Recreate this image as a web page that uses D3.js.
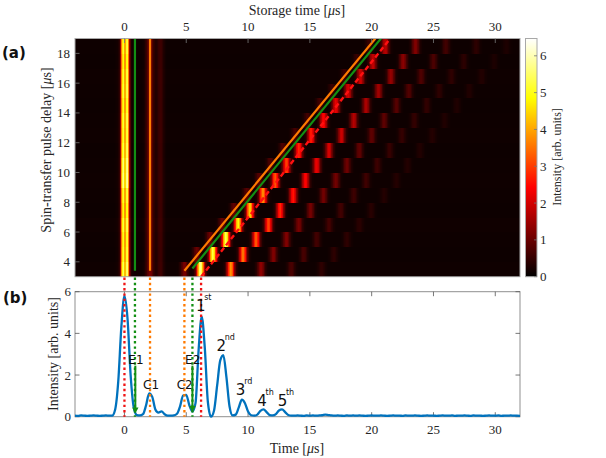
<!DOCTYPE html>
<html>
<head>
<meta charset="utf-8">
<script src="https://cdn.jsdelivr.net/npm/d3@7"></script>
<style>
  body { margin: 0; background: #fff; }
  svg text { fill: #262626; }
</style>
</head>
<body>
<svg id="fig" width="606" height="458"></svg>
<script>
// ---------- panel (b): measured trace, one value every 0.25 us starting at -4 us ----------
var traceStart = -4, traceStep = 0.25;
var traceValues = [
  0.05, 0.04, 0.06, 0.05, 0.04, 0.05, 0.06, 0.05, 0.04, 0.05, 0.06, 0.05, 0.05,
  0.35, 1.7, 4.3, 5.8, 4.7, 2.0, 0.45, 0.08, 0.06, 0.12, 0.55, 1.12, 0.95, 0.35,
  0.2, 0.26, 0.12, 0.05, 0.05, 0.06, 0.14, 0.5, 1.02, 1.05, 0.55, 0.25, 0.65,
  3.2, 4.8, 3.3, 0.7, 0.0, 0.3, 1.5, 2.7, 2.95, 1.9, 0.5, 0.06, 0.1, 0.45, 0.82,
  0.65, 0.25, 0.07, 0.05, 0.1, 0.28, 0.35, 0.22, 0.08, 0.06, 0.12, 0.3, 0.35,
  0.22, 0.08, 0.05,
  0.05, 0.06, 0.05, 0.04, 0.06, 0.05, 0.06, 0.05, 0.06, 0.07,
  0.1, 0.08, 0.06, 0.05, 0.06, 0.05, 0.04, 0.06, 0.05, 0.06,
  0.05, 0.06, 0.05, 0.04, 0.05, 0.06, 0.05, 0.05, 0.06, 0.05,
  0.04, 0.05, 0.06, 0.05, 0.05, 0.04, 0.06, 0.05, 0.05, 0.06,
  0.05, 0.04, 0.05, 0.06, 0.05, 0.05, 0.04, 0.05, 0.06, 0.05,
  0.05, 0.06, 0.04, 0.05, 0.05, 0.06, 0.05, 0.04, 0.06, 0.05,
  0.05, 0.04, 0.05, 0.06, 0.05, 0.05, 0.06, 0.04, 0.05, 0.05,
  0.06, 0.05, 0.05, 0.04
];

// ---------- panel (a): heat map, one row per spin-transfer delay ----------
var delayRows = [3, 4, 5, 6, 7, 8, 9, 10, 11, 12, 13, 14, 15, 16, 17, 18]; // lower edge of row (us)
var baseLevel = [0.14, 0.12, 0.13, 0.15, 0.12, 0.13, 0.14, 0.13, 0.12, 0.14, 0.13, 0.12, 0.13, 0.14, 0.12, 0.13];
var inputTimes = [-0.12, 0.22];          // the input pulse shows as two stripes
var inputAmp = [5.0, 4.7, 4.6, 4.8, 4.5, 4.7, 5.3, 5.2, 4.9, 4.7, 4.8, 4.6, 4.8, 4.7, 4.5, 4.7];
var fixedPeaks = [[0.05, 0.35, 0.32], [2.07, 1.0, 0.22], [2.9, 0.45, 0.2]]; // [time, amplitude, width]
var c2Amp = [1.0, 0.9, 0.9, 0.8, 0.8, 0.7, 0.7, 0.6, 0.6, 0.5, 0.5, 0.5, 0.4, 0.4, 0.4, 0.4];
var echo1Time = [6.15, 7.15, 8.2, 9.2, 10.15, 11.2, 12.2, 13.1, 14.1, 15.1, 16.1, 17.1, 18.1, 19.1, 20.1, 21.1];
var echoOffsets = [0, 2.45, 4.9, 7.35, 9.8];
var echoAmps = [
  [5.6, 3.7, 1.2, 0.55, 0.3],
  [5.2, 3.4, 1.1, 0.55, 0.3],
  [5.3, 3.1, 1.1, 0.5, 0.3],
  [4.7, 2.9, 1.0, 0.5, 0.25],
  [4.2, 2.7, 1.0, 0.5, 0.25],
  [3.6, 2.5, 0.95, 0.45, 0.2],
  [3.1, 2.3, 0.95, 0.45, 0.2],
  [2.9, 2.1, 0.9, 0.45, 0.2],
  [2.7, 1.9, 0.8, 0.4, 0.2],
  [2.5, 1.8, 0.75, 0.35, 0.2],
  [2.3, 1.6, 0.75, 0.35, 0.18],
  [2.1, 1.5, 0.7, 0.35, 0.18],
  [1.9, 1.4, 0.65, 0.3, 0.18],
  [1.8, 1.3, 0.6, 0.3, 0.18],
  [1.7, 1.2, 0.6, 0.3, 0.15],
  [1.6, 1.1, 0.5, 0.3, 0.15]
];

// overlay lines on (a): [t0, d0, t1, d1]
var guideLines = [
  { pts: [0.85, 3.4, 0.85, 19], col: 'green' },
  { pts: [2.07, 3.4, 2.07, 19], col: 'orange' },
  { pts: [4.85, 3.4, 20.3, 19], col: 'orange' },
  { pts: [5.5, 3.55, 20.75, 19], col: 'green' },
  { pts: [6.2, 3.0, 21.5, 19], col: 'red', dashed: true }
];
// dotted connectors from (a) down through (b)
var connTimes = [0, 0.85, 2.07, 4.85, 5.5, 6.2];
var connCols = ['red', 'green', 'orange', 'orange', 'green', 'red'];

var peakLabels = [
  { txt: 'E1', t: 0.93, v: 2.55 }, { txt: 'C1', t: 2.15, v: 1.33 },
  { txt: 'C2', t: 4.87, v: 1.33 }, { txt: 'E2', t: 5.52, v: 2.55 }
];
var orderLabels = [
  { n: '1', sup: 'st', t: 6.17, v: 5.07 }, { n: '2', sup: 'nd', t: 7.83, v: 3.17 },
  { n: '3', sup: 'rd', t: 9.4, v: 1.04 }, { n: '4', sup: 'th', t: 11.13, v: 0.51 },
  { n: '5', sup: 'th', t: 12.78, v: 0.51 }
];
var arrows = [{ t: 0.88, v0: 2.45, v1: 0.15 }, { t: 5.5, v0: 2.45, v1: 0.22 }];

var colours = { red: '#f01414', green: '#138f13', orange: '#ff7a00' };
var serif = '"Liberation Serif", "Times New Roman", serif';
var sans = '"DejaVu Sans", sans-serif';

// ---------- scales ----------
var svg = d3.select('#fig');
var x = d3.scaleLinear().domain([-4, 32]).range([75, 520]);
var ya = d3.scaleLinear().domain([3, 19]).range([276.7, 38.5]);
var yb = d3.scaleLinear().domain([0, 6]).range([416.7, 291.7]);
var yc = d3.scaleLinear().domain([0, 6.47]).range([276.7, 38.5]);

function hot(u) {
  u = Math.max(0, Math.min(1, u));
  var r = Math.min(1, u / 0.375);
  var g = Math.max(0, Math.min(1, (u - 0.375) / 0.375));
  var b = Math.max(0, (u - 0.75) / 0.25);
  return d3.rgb(r * 255, g * 255, b * 255).formatHex();
}
var colour = function(v) { return hot(v / yc.domain()[1]); };

function gauss(t, c, w) { var z = (t - c) / w; return Math.exp(-0.5 * z * z); }
function rowValue(i, t) {
  var v = baseLevel[i];
  fixedPeaks.forEach(function(p) { v += p[1] * gauss(t, p[0], p[2]); });
  inputTimes.forEach(function(c) { v += inputAmp[i] * gauss(t, c, 0.12); });
  v += c2Amp[i] * gauss(t, echo1Time[i] - 1.3, 0.2);
  echoOffsets.forEach(function(o, k) { v += echoAmps[i][k] * gauss(t, echo1Time[i] + o, 0.21); });
  return v;
}

// ---------- panel (a) heat map ----------
var step = 0.05;
var cols = d3.range(-4, 32, step);
var heat = svg.append('g').attr('shape-rendering', 'crispEdges');
delayRows.forEach(function(d, i) {
  heat.append('g').selectAll('rect')
    .data(cols)
    .enter().append('rect')
    .attr('x', function(t) { return x(t); })
    .attr('width', x(step) - x(0) + 0.4)
    .attr('y', ya(d + 1))
    .attr('height', ya(d) - ya(d + 1) + 0.4)
    .attr('fill', function(t) { return colour(rowValue(i, t + step / 2)); });
});

svg.append('clipPath').attr('id', 'clipA').append('rect')
  .attr('x', 75).attr('y', 38.5).attr('width', 445).attr('height', 238.2);
var guides = svg.append('g').attr('clip-path', 'url(#clipA)');
guideLines.forEach(function(g) {
  guides.append('line')
    .attr('x1', x(g.pts[0])).attr('y1', ya(g.pts[1]))
    .attr('x2', x(g.pts[2])).attr('y2', ya(g.pts[3]))
    .attr('stroke', g.col === 'red' ? '#ff1010' : colours[g.col])
    .attr('stroke-width', g.dashed ? 2.4 : 2.2)
    .attr('stroke-dasharray', g.dashed ? '5,3' : null);
});

// frame + ticks (a)
svg.append('rect').attr('x', 75).attr('y', 38.5).attr('width', 445).attr('height', 238.2)
  .attr('fill', 'none').attr('stroke', '#a8a8a8').attr('stroke-width', 1);
var xTicks = d3.range(0, 31, 5);
var gA = svg.append('g').attr('font-family', serif).attr('font-size', 13);
xTicks.forEach(function(t) {
  gA.append('line').attr('x1', x(t)).attr('x2', x(t)).attr('y1', 38.5).attr('y2', 43)
    .attr('stroke', '#777').attr('stroke-width', 0.8);
  gA.append('text').attr('x', x(t)).attr('y', 31).attr('text-anchor', 'middle').text(t);
});
d3.range(4, 19, 2).forEach(function(d) {
  gA.append('line').attr('x1', 75).attr('x2', 79.5).attr('y1', ya(d)).attr('y2', ya(d))
    .attr('stroke', '#777').attr('stroke-width', 0.8);
  gA.append('text').attr('x', 70).attr('y', ya(d) + 4.5).attr('text-anchor', 'end').text(d);
});
var t1 = svg.append('text').attr('x', 297).attr('y', 14.5).attr('text-anchor', 'middle')
  .attr('font-family', serif).attr('font-size', 14);
t1.append('tspan').text('Storage time [');
t1.append('tspan').attr('font-style', 'italic').text('\u03bc');
t1.append('tspan').text('s]');
var t2 = svg.append('text').attr('transform', 'translate(51,150) rotate(-90)')
  .attr('text-anchor', 'middle').attr('font-family', serif).attr('font-size', 14);
t2.append('tspan').text('Spin-transfer pulse delay [');
t2.append('tspan').attr('font-style', 'italic').text('\u03bc');
t2.append('tspan').text('s]');

// ---------- colour bar ----------
var grad = svg.append('defs').append('linearGradient').attr('id', 'hotGrad')
  .attr('x1', 0).attr('y1', 1).attr('x2', 0).attr('y2', 0);
d3.range(0, 1.0001, 0.025).forEach(function(u) {
  grad.append('stop').attr('offset', u).attr('stop-color', hot(u));
});
svg.append('rect').attr('x', 525.5).attr('y', 38.5).attr('width', 11.5).attr('height', 238.2)
  .attr('fill', 'url(#hotGrad)').attr('stroke', '#a8a8a8').attr('stroke-width', 1);
var gC = svg.append('g').attr('font-family', serif).attr('font-size', 13);
d3.range(0, 7).forEach(function(v) {
  gC.append('line').attr('x1', 534).attr('x2', 537).attr('y1', yc(v)).attr('y2', yc(v))
    .attr('stroke', '#777').attr('stroke-width', 0.8);
  gC.append('text').attr('x', 540).attr('y', yc(v) + 4.5).text(v);
});
svg.append('text').attr('transform', 'translate(561,157) rotate(-90)')
  .attr('text-anchor', 'middle').attr('font-family', serif).attr('font-size', 12)
  .text('Intensity [arb. units]');

// ---------- panel (b) ----------
var trace = traceValues.map(function(v, i) { return [traceStart + i * traceStep, v]; });
svg.append('clipPath').attr('id', 'clipB').append('rect')
  .attr('x', 75).attr('y', 289).attr('width', 445).attr('height', 130);
svg.append('rect').attr('x', 75).attr('y', 291.7).attr('width', 445).attr('height', 125)
  .attr('fill', '#fff').attr('stroke', '#8f8f8f').attr('stroke-width', 1);

var gB = svg.append('g').attr('font-family', serif).attr('font-size', 13);
xTicks.forEach(function(t) {
  gB.append('line').attr('x1', x(t)).attr('x2', x(t)).attr('y1', 416.7).attr('y2', 412.2)
    .attr('stroke', '#555').attr('stroke-width', 0.8);
  gB.append('line').attr('x1', x(t)).attr('x2', x(t)).attr('y1', 291.7).attr('y2', 296.2)
    .attr('stroke', '#555').attr('stroke-width', 0.8);
  gB.append('text').attr('x', x(t)).attr('y', 434).attr('text-anchor', 'middle').text(t);
});
d3.range(0, 7, 2).forEach(function(v) {
  gB.append('line').attr('x1', 75).attr('x2', 79.5).attr('y1', yb(v)).attr('y2', yb(v))
    .attr('stroke', '#555').attr('stroke-width', 0.8);
  gB.append('line').attr('x1', 520).attr('x2', 515.5).attr('y1', yb(v)).attr('y2', yb(v))
    .attr('stroke', '#555').attr('stroke-width', 0.8);
  gB.append('text').attr('x', 71).attr('y', yb(v) + 4.5).attr('text-anchor', 'end').text(v);
});

svg.append('path').datum(trace)
  .attr('clip-path', 'url(#clipB)')
  .attr('fill', 'none').attr('stroke', '#0072bd').attr('stroke-width', 2.3)
  .attr('stroke-linejoin', 'round')
  .attr('d', d3.line().x(function(d) { return x(d[0]); }).y(function(d) { return yb(d[1]); })
    .curve(d3.curveMonotoneX));

// dotted connectors
connTimes.forEach(function(t, i) {
  svg.append('line').attr('x1', x(t)).attr('x2', x(t)).attr('y1', 277.5).attr('y2', 416.7)
    .attr('stroke', colours[connCols[i]]).attr('stroke-width', 2.3)
    .attr('stroke-dasharray', '2.4,2.9');
});

// arrows
arrows.forEach(function(a) {
  var px = x(a.t), ytop = yb(a.v0), ytip = yb(a.v1);
  svg.append('line').attr('x1', px).attr('x2', px).attr('y1', ytop).attr('y2', ytip - 5)
    .attr('stroke', colours.green).attr('stroke-width', 2);
  svg.append('path')
    .attr('d', 'M' + (px - 3.2) + ',' + (ytip - 6) + 'L' + (px + 3.2) + ',' + (ytip - 6) + 'L' + px + ',' + ytip + 'Z')
    .attr('fill', colours.green);
});

// labels on (b)
var gL = svg.append('g').attr('font-family', sans);
peakLabels.forEach(function(p) {
  gL.append('text').attr('x', x(p.t)).attr('y', yb(p.v)).attr('text-anchor', 'middle')
    .attr('font-size', 12).style('fill', '#111').text(p.txt);
});
orderLabels.forEach(function(p) {
  gL.append('text').attr('x', x(p.t)).attr('y', yb(p.v)).attr('text-anchor', 'middle')
    .attr('font-size', 15).style('fill', '#111').text(p.n);
  gL.append('text').attr('x', x(p.t) + 3.5).attr('y', yb(p.v) - 11)
    .attr('font-size', 8).style('fill', '#111').text(p.sup);
});

var t3 = svg.append('text').attr('x', 297).attr('y', 453).attr('text-anchor', 'middle')
  .attr('font-family', serif).attr('font-size', 14);
t3.append('tspan').text('Time [');
t3.append('tspan').attr('font-style', 'italic').text('\u03bc');
t3.append('tspan').text('s]');
svg.append('text').attr('transform', 'translate(58,354) rotate(-90)')
  .attr('text-anchor', 'middle').attr('font-family', serif).attr('font-size', 14)
  .text('Intensity [arb. units]');

// panel tags
svg.append('text').attr('x', 2).attr('y', 57.5).attr('font-family', sans)
  .attr('font-weight', 'bold').attr('font-size', 15).style('fill', '#111').text('(a)');
svg.append('text').attr('x', 3).attr('y', 302.5).attr('font-family', sans)
  .attr('font-weight', 'bold').attr('font-size', 15).style('fill', '#111').text('(b)');
</script>
</body>
</html>
